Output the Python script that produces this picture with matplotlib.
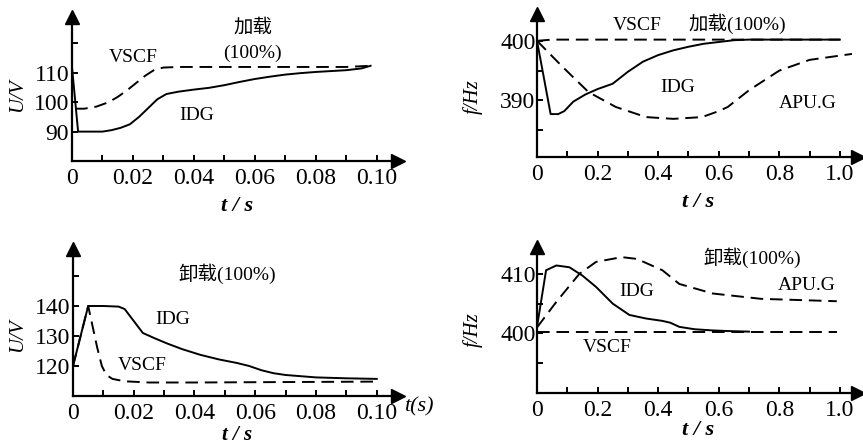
import matplotlib
matplotlib.use("Agg")
import matplotlib.pyplot as plt

plt.rcParams['font.family'] = ['Liberation Serif', 'Noto Sans CJK SC']

# 加载 U/V (左上)
p1_idg_t = [0, 0.002, 0.006, 0.010, 0.013, 0.016, 0.019, 0.022, 0.025, 0.028, 0.031, 0.035,
            0.040, 0.045, 0.050, 0.055, 0.060, 0.065, 0.070, 0.075, 0.080, 0.085, 0.090, 0.095, 0.098]
p1_idg_u = [112, 90, 90, 90, 90.5, 91.3, 92.5, 95, 98, 101, 102.8, 103.6,
            104.3, 104.9, 105.8, 106.9, 107.9, 108.7, 109.4, 109.9, 110.3, 110.6, 110.9, 111.5, 112.4]
p1_vscf_t = [0.001, 0.004, 0.008, 0.012, 0.015, 0.018, 0.021, 0.024, 0.027, 0.030, 0.035, 0.050, 0.070, 0.090, 0.098]
p1_vscf_u = [97.8, 97.8, 98.5, 100, 101.8, 104, 106.5, 109, 111, 111.8, 112, 112, 112, 112, 112.4]

# 加载 f/Hz (右上)
p2_idg_t = [0, 0.045, 0.07, 0.09, 0.12, 0.16, 0.2, 0.25, 0.3, 0.35, 0.4, 0.45, 0.5, 0.55, 0.6, 0.65, 0.7, 0.8, 0.9, 1.0]
p2_idg_f = [400, 387.7, 387.7, 388.2, 389.8, 391, 391.9, 392.8, 394.8, 396.5, 397.6, 398.4,
            399.0, 399.5, 399.8, 400.1, 400.2, 400.2, 400.2, 400.2]
p2_vscf_t = [0, 0.05, 1.0]
p2_vscf_f = [400, 400.2, 400.2]
p2_apu_t = [0, 0.085, 0.17, 0.26, 0.36, 0.45, 0.545, 0.6, 0.63, 0.7, 0.8, 0.9, 1.04]
p2_apu_f = [400, 395.6, 391.4, 388.9, 387.2, 386.9, 387.2, 388.2, 388.9, 391.7, 395, 396.8, 397.8]

# 卸载 U/V (左下)
p3_idg_t = [0, 0.005, 0.010, 0.015, 0.017, 0.020, 0.023, 0.027, 0.031, 0.036, 0.042, 0.048,
            0.054, 0.058, 0.062, 0.066, 0.070, 0.080, 0.090, 0.100]
p3_idg_u = [120, 140, 140, 139.8, 139, 135, 131, 129.2, 127.5, 125.6, 123.7, 122.2,
            121.0, 120.0, 118.6, 117.6, 117.0, 116.2, 115.9, 115.7]
p3_vscf_t = [0, 0.005, 0.0065, 0.008, 0.0095, 0.011, 0.013, 0.017, 0.025, 0.040, 0.100]
p3_vscf_u = [120, 140, 133, 126, 120, 117, 115.7, 114.9, 114.5, 114.5, 114.8]

# 卸载 f/Hz (右下)
p4_idg_t = [0, 0.03, 0.064, 0.107, 0.15, 0.195, 0.25, 0.305, 0.36, 0.414, 0.44, 0.47, 0.52, 0.58, 0.63, 0.7]
p4_idg_f = [401.1, 410.6, 411.4, 411.1, 409.7, 407.8, 405, 403.1, 402.5, 402.1, 401.8, 401.1,
            400.7, 400.5, 400.4, 400.3]
p4_vscf_t = [0, 0.99]
p4_vscf_f = [400.3, 400.3]
p4_apu_t = [0, 0.064, 0.14, 0.195, 0.28, 0.33, 0.414, 0.47, 0.58, 0.74, 0.99]
p4_apu_f = [401, 405.3, 410, 412, 412.8, 412.5, 410.6, 408.3, 406.7, 405.8, 405.4]

W, H = 863, 446
fig = plt.figure(figsize=(W / 100, H / 100), dpi=100)

DASH = (0, (6.5, 3.5))


def make_axes(left, bottom, right, top, xlim, ylim):
    ax = fig.add_axes([left / W, 1 - bottom / H, (right - left) / W, (bottom - top) / H])
    ax.set_xlim(*xlim)
    ax.set_ylim(*ylim)
    for s in ['top', 'right']:
        ax.spines[s].set_visible(False)
    for s in ['left', 'bottom']:
        ax.spines[s].set_linewidth(1.6)
    ax.plot(1, 0, '>k', transform=ax.transAxes, clip_on=False, ms=10)
    ax.plot(0, 1, '^k', transform=ax.transAxes, clip_on=False, ms=10)
    ax.tick_params(which='both', direction='in', length=4, width=1.4, labelsize=17, pad=5)
    ax.patch.set_alpha(0)
    return ax


def ftext(x, y, s, **kw):
    kw.setdefault('fontsize', 14)
    fig.text(x / W, 1 - y / H, s, ha='center', va='center', **kw)


# 左上
ax1 = make_axes(72, 161, 398, 17, (0, 0.107), (80, 129))
ax1.plot(p1_idg_t, p1_idg_u, 'k-', lw=1.4)
ax1.plot(p1_vscf_t, p1_vscf_u, 'k', ls=DASH, lw=1.4)
ax1.set_xticks([0, 0.02, 0.04, 0.06, 0.08, 0.10], ['0', '0.02', '0.04', '0.06', '0.08', '0.10'])
ax1.set_xticks([0.01, 0.03, 0.05, 0.07, 0.09], minor=True)
ax1.set_yticks([90, 100, 110, 120], ['90', '100', '110', ''])
ax1.tick_params(axis='y', pad=2)

# 右上
ax2 = make_axes(537, 157, 858, 14, (0, 1.06), (380.5, 404.5))
ax2.plot(p2_idg_t, p2_idg_f, 'k-', lw=1.4)
ax2.plot(p2_vscf_t, p2_vscf_f, 'k', ls=DASH, lw=1.4)
ax2.plot(p2_apu_t, p2_apu_f, 'k', ls=DASH, lw=1.4)
ax2.set_xticks([0, 0.2, 0.4, 0.6, 0.8, 1.0], ['0', '0.2', '0.4', '0.6', '0.8', '1.0'])
ax2.set_xticks([0.1, 0.3, 0.5, 0.7, 0.9], minor=True)
ax2.set_yticks([385, 390, 395, 400], ['', '390', '', '400'])
ax2.tick_params(axis='y', pad=1)

# 左下
ax3 = make_axes(73, 396, 398, 249, (0, 0.107), (110, 159))
ax3.plot(p3_idg_t, p3_idg_u, 'k-', lw=1.4)
ax3.plot(p3_vscf_t, p3_vscf_u, 'k', ls=DASH, lw=1.4)
ax3.set_xticks([0, 0.02, 0.04, 0.06, 0.08, 0.10], ['0', '0.02', '0.04', '0.06', '0.08', '0.10'])
ax3.set_xticks([0.01, 0.03, 0.05, 0.07, 0.09], minor=True)
ax3.set_yticks([120, 130, 140, 150], ['120', '130', '140', ''])
ax3.tick_params(axis='y', pad=2)

# 右下
ax4 = make_axes(537, 393, 858, 247, (0, 1.06), (390, 414.5))
ax4.plot(p4_idg_t, p4_idg_f, 'k-', lw=1.4)
ax4.plot(p4_vscf_t, p4_vscf_f, 'k', ls=DASH, lw=1.4)
ax4.plot(p4_apu_t, p4_apu_f, 'k', ls=DASH, lw=1.4)
ax4.set_xticks([0, 0.2, 0.4, 0.6, 0.8, 1.0], ['0', '0.2', '0.4', '0.6', '0.8', '1.0'])
ax4.set_xticks([0.1, 0.3, 0.5, 0.7, 0.9], minor=True)
ax4.set_yticks([395, 400, 405, 410], ['', '400', '', '410'])
ax4.tick_params(axis='y', pad=1)

# 轴标签
ftext(18, 95, 'U/V', rotation=90, style='italic', fontsize=15)
ftext(18, 335, 'U/V', rotation=90, style='italic', fontsize=15)
ftext(473, 97, 'f/Hz', rotation=90, style='italic', fontsize=15)
ftext(473, 330, 'f/Hz', rotation=90, style='italic', fontsize=15)
ftext(237, 206, 't / s', style='italic', fontsize=16, weight='bold')
ftext(698, 202, 't / s', style='italic', fontsize=16, weight='bold')
ftext(237, 435, 't / s', style='italic', fontsize=15, weight='bold')
ftext(698, 430, 't / s', style='italic', fontsize=16, weight='bold')
ftext(419, 407, 't(s)', style='italic', fontsize=16)

# 曲线注释
ftext(253, 28, '加载')
ftext(252, 53, '(100%)')
ftext(133, 57, 'VSCF')
ftext(197, 115, 'IDG')

ftext(637, 25, 'VSCF')
ftext(737, 24, '加载(100%)')
ftext(678, 88, 'IDG')
ftext(808, 103, 'APU.G')

ftext(227, 274, '卸载(100%)')
ftext(173, 320, 'IDG')
ftext(142, 365, 'VSCF')

ftext(752, 258, '卸载(100%)')
ftext(807, 285, 'APU.G')
ftext(637, 292, 'IDG')
ftext(607, 348, 'VSCF')

fig.savefig('out.png', dpi=100)
